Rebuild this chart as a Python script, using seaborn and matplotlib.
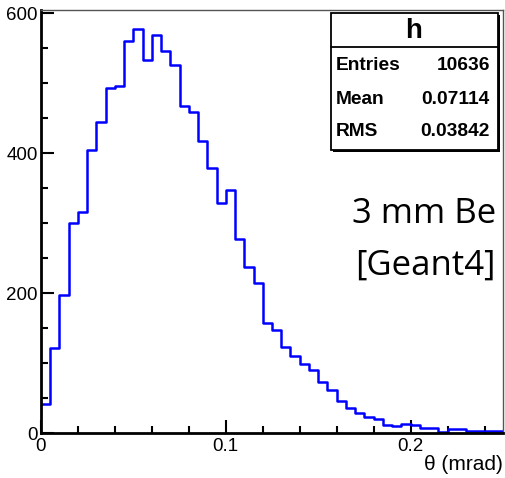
import numpy as np
import pandas as pd
import matplotlib
matplotlib.use("Agg")
import matplotlib.pyplot as plt
from matplotlib.patches import Rectangle
from matplotlib.lines import Line2D
import seaborn as sns

# ---- data ----
bin_width = 0.005
n_bins = 50
counts = [42, 122, 198, 300, 316, 405, 445, 494, 497, 560,
          578, 534, 569, 547, 526, 467, 459, 418, 379, 329,
          348, 277, 238, 214, 157, 148, 123, 110, 99, 90,
          73, 62, 46, 36, 28, 23, 20, 12, 10, 13,
          11, 7, 7, 1, 6, 6, 3, 3, 3, 3]
stat_labels = ["Entries", "Mean", "RMS"]
stat_values = ["10636", "0.07114", "0.03842"]
hist_name = "h"
note_lines = ["3 mm Be", "[Geant4]"]
x_label = "θ (mrad)"
x_ticks = [0, 0.1, 0.2]
x_ticklabels = ["0", "0.1", "0.2"]
y_ticks = [0, 200, 400, 600]

edges = (np.arange(n_bins + 1) * bin_width).tolist()
centers = [e + bin_width / 2 for e in edges[:-1]]
df = pd.DataFrame({"theta": centers, "count": np.asarray(counts, dtype=float)})

sns.set_style("white")
plt.rcParams["font.family"] = ["Liberation Sans", "DejaVu Sans"]
plt.rcParams["text.color"] = "black"
plt.rcParams["axes.labelcolor"] = "black"
plt.rcParams["xtick.color"] = "black"
plt.rcParams["ytick.color"] = "black"

W, H = 505, 478
fig = plt.figure(figsize=(W / 100, H / 100), dpi=100)
fig.patch.set_facecolor("white")


def fx(px):
    return px / W


def fy(py):
    return 1 - py / H


L, R, T, B = 41, 503, 10, 433
ax = fig.add_axes([fx(L), fy(B), fx(R) - fx(L), fy(T) - fy(B)])

sns.histplot(data=df, x="theta", weights="count", bins=edges, element="step",
             fill=False, color="#0000ff", linewidth=1.8, ax=ax)

ax.set_xlim(0, 0.25)
ax.set_ylim(0, 605)
ax.set_ylabel("")
ax.set_xlabel("")
ax.set_xticks(x_ticks)
ax.set_xticklabels(x_ticklabels)
ax.set_yticks(y_ticks)
ax.xaxis.set_minor_locator(matplotlib.ticker.MultipleLocator(0.02))
ax.yaxis.set_minor_locator(matplotlib.ticker.MultipleLocator(50))
ax.tick_params(axis="both", which="major", direction="in", length=9.5,
               width=1.5, labelsize=13.5, colors="black")
ax.tick_params(axis="both", which="minor", direction="in", length=5,
               width=1.5)
ax.tick_params(axis="x", which="both", top=False, bottom=True, pad=3.5)
ax.tick_params(axis="y", which="both", right=False, left=True, pad=2.5)
for s in ["left", "bottom"]:
    ax.spines[s].set_linewidth(2)
    ax.spines[s].set_color("black")
for s in ["top", "right"]:
    ax.spines[s].set_linewidth(1)
    ax.spines[s].set_color("#555555")

fig.text(fx(503), fy(465), x_label, ha="right", va="center", fontsize=15)

# ---- stats box ----
bx0, bx1, by0, by1 = 331, 498, 13, 150
sh = 2
fig.add_artist(Rectangle((fx(bx0 + sh), fy(by1 + sh)), fx(bx1) - fx(bx0),
                         fy(by0) - fy(by1), transform=fig.transFigure,
                         facecolor="black", edgecolor="black", lw=0))
fig.add_artist(Rectangle((fx(bx0), fy(by1)), fx(bx1) - fx(bx0),
                         fy(by0) - fy(by1), transform=fig.transFigure,
                         facecolor="white", edgecolor="black", lw=1.3))
fig.add_artist(Line2D([fx(bx0), fx(bx1)], [fy(47), fy(47)],
                      transform=fig.transFigure, color="black", lw=1.3))
fig.text(fx(414), fy(31), hist_name, ha="center", va="center",
         fontsize=20, fontweight="bold")
row_y = [65, 100, 131]
for lab, val, yy in zip(stat_labels, stat_values, row_y):
    fig.text(fx(336), fy(yy), lab, ha="left", va="center",
             fontsize=13.8, fontweight="bold")
    fig.text(fx(490), fy(yy), val, ha="right", va="center",
             fontsize=13.8, fontweight="bold")

# ---- annotation ----
for line, base in zip(note_lines, [223, 275]):
    fig.text(fx(496), fy(base), line, ha="right", va="baseline",
             fontsize=25, family=["Open Sans", "DejaVu Sans"])

fig.savefig("out.png", dpi=100, facecolor="white")
